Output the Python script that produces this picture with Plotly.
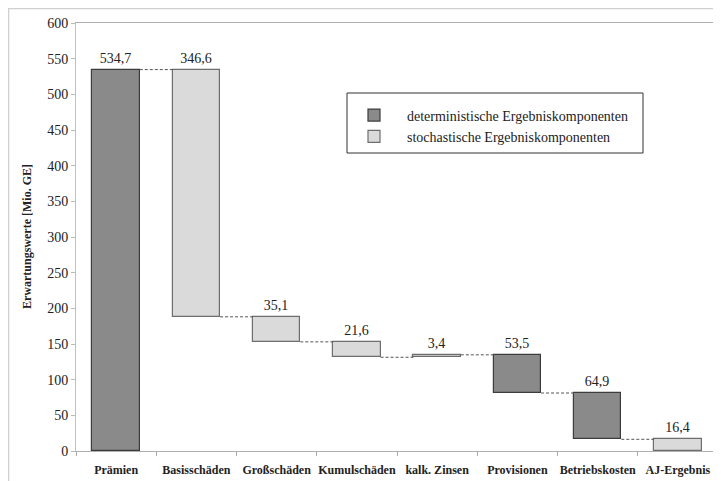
import plotly.graph_objects as go

categories = ["Prämien", "Basisschäden", "Großschäden", "Kumulschäden",
              "kalk. Zinsen", "Provisionen", "Betriebskosten", "AJ-Ergebnis"]
changes = [534.7, -346.6, -35.1, -21.6, 3.4, -53.5, -64.9, 16.4]
measures = ["absolute", "relative", "relative", "relative",
            "relative", "relative", "relative", "total"]
components = ["det", "sto", "sto", "sto", "sto", "det", "det", "sto"]
legend_names = {"det": "deterministische Ergebniskomponenten",
                "sto": "stochastische Ergebniskomponenten"}
y_ticks = list(range(0, 601, 50))
y_title = "Erwartungswerte [Mio. GE]"

FONT = "Liberation Serif"
DARK_FILL, DARK_LINE = "#8a8a8a", "#3c3c3c"
LIGHT_FILL, LIGHT_LINE = "#dadada", "#6e6e6e"
BAR_W = 0.59

# compute floating bar bases/heights from the data
bases, heights, levels = [], [], []
running = 0.0
for v, m in zip(changes, measures):
    if m == "absolute":
        bases.append(0.0); heights.append(v); running = v
    elif m == "total":
        bases.append(0.0); heights.append(running)
    else:
        bases.append(min(running, running + v)); heights.append(abs(v)); running += v
    levels.append(running)

def fmt(v):
    return f"{abs(v):.1f}".replace(".", ",")

fig = go.Figure()
for comp, fill, line in [("det", DARK_FILL, DARK_LINE), ("sto", LIGHT_FILL, LIGHT_LINE)]:
    idx = [i for i, c in enumerate(components) if c == comp]
    fig.add_trace(go.Bar(
        x=idx, y=[heights[i] for i in idx], base=[bases[i] for i in idx],
        width=BAR_W, name=legend_names[comp],
        marker=dict(color=fill, line=dict(color=line, width=1.2)),
        text=[fmt(changes[i]) for i in idx], textposition="outside",
        textfont=dict(family=FONT, size=14, color="#222"),
        cliponaxis=False,
    ))

# dashed connectors
for i in range(len(categories) - 1):
    lvl = levels[i]
    fig.add_trace(go.Scatter(
        x=[i + BAR_W / 2, i + 1 - BAR_W / 2], y=[lvl, lvl], mode="lines",
        line=dict(color="#555", width=1, dash="3px,2px"),
        showlegend=False, hoverinfo="skip"))

# page has an 8px body margin: figure origin sits at page (8, 8)
OFF = 8
W, H = 721 - OFF, 481 - OFF
PL, PR, PT, PB = 76, 718, 23, 451  # plot area in page pixels
L, R, T, B = PL - OFF, W - (PR - OFF), PT - OFF, H - (PB - OFF)
pw, ph = PR - PL, PB - PT

def px_x(p):
    return (p - PL) / pw

def px_y(p):
    return (PB - p) / ph

shapes = [
    # outer frame (as close to the page frame as the figure allows)
    dict(type="rect", xref="paper", yref="paper", x0=px_x(OFF + 0.5), x1=px_x(719),
         y0=px_y(490), y1=px_y(OFF + 0.5), line=dict(color="#d0d0d0", width=1.5), layer="below"),
    # legend box
    dict(type="rect", xref="paper", yref="paper", x0=px_x(347), x1=px_x(643),
         y0=px_y(153), y1=px_y(93), line=dict(color="#333", width=1)),
]

annotations = [
    dict(text=f"<b>{y_title}</b>", xref="paper", yref="paper",
         x=px_x(27), y=0.5, xanchor="center", yanchor="middle", textangle=-90,
         showarrow=False, font=dict(family=FONT, size=12, color="#222")),
]

fig.update_layout(
    width=W, height=H,
    margin=dict(l=L, r=R, t=T, b=B, autoexpand=False),
    paper_bgcolor="white", plot_bgcolor="white",
    barmode="overlay", bargap=0,
    font=dict(family=FONT, color="#222"),
    showlegend=True,
    legend=dict(x=px_x(341), y=px_y(99.5), xanchor="left", yanchor="top",
                bgcolor="rgba(0,0,0,0)", borderwidth=0, itemwidth=56,
                font=dict(family=FONT, size=14, color="#222"),
                itemclick=False, itemdoubleclick=False),
    shapes=shapes,
    annotations=annotations,
    xaxis=dict(range=[-0.5, len(categories) - 0.5], tickvals=list(range(len(categories))),
               ticktext=[f"<b>{c}</b>" for c in categories], ticks="", tickangle=0,
               tickfont=dict(family=FONT, size=12, color="#222"),
               minor=dict(tickvals=[i + 0.5 for i in range(-1, len(categories))],
                          ticks="outside", ticklen=4, tickcolor="#aaa"),
               showline=True, linecolor="#b0b0b0", linewidth=1, mirror=True,
               showgrid=False, zeroline=False, ticklabelstandoff=8, automargin=False),
    yaxis=dict(range=[0, 600], tickvals=y_ticks, ticks="outside", ticklen=4,
               tickcolor="#bbb", tickfont=dict(family=FONT, size=14, color="#222"),
               showline=True, linecolor="#c0c0c0", linewidth=1, mirror=True,
               showgrid=False, zeroline=False, automargin=False),
)

fig.write_html("out.html")
